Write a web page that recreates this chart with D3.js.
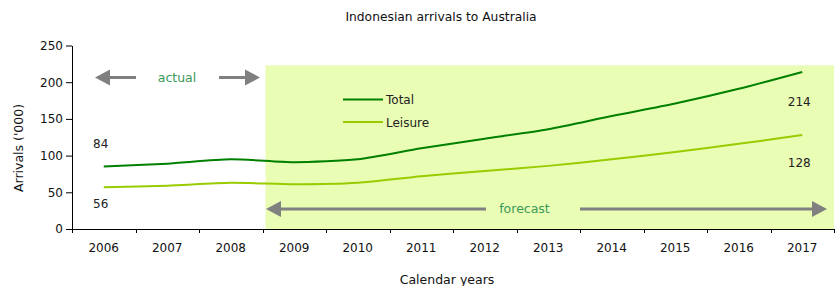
<!DOCTYPE html>
<html><head><meta charset="utf-8">
<script src="https://cdn.jsdelivr.net/npm/d3@7"></script>
<style>body{margin:0;background:#fff}svg{display:block}text{font-family:"DejaVu Sans",Verdana,sans-serif}</style>
</head><body><svg id="c" width="839" height="286"></svg>
<script>
const years = ["2006","2007","2008","2009","2010","2011","2012","2013","2014","2015","2016","2017"];
const total = [85, 89, 95, 91, 95, 110, 123, 136, 154, 171, 191, 214];
const leisure = [57, 59, 63, 61, 63, 72, 79, 86, 95, 105, 116, 128];
const yTicks = [0, 50, 100, 150, 200, 250];
const firstForecast = "2009";
const labels = [
  {year:"2006", text:"84", value:110},
  {year:"2006", text:"56", value:28},
  {year:"2017", text:"214", value:168},
  {year:"2017", text:"128", value:85}
];

const svg = d3.select("#c");
const x = d3.scaleBand().domain(years).range([72, 834]).padding(0);
const y = d3.scaleLinear().domain([0, 250]).range([229, 45.5]);
const cx = d => x(d) + x.bandwidth()/2;

// forecast shading
svg.append("rect")
  .attr("x", x(firstForecast) + 3).attr("y", y(223))
  .attr("width", x.range()[1] - x(firstForecast) - 3)
  .attr("height", y(0) - y(223))
  .attr("fill", "#EAFDB4");

// y axis
const yAxis = d3.axisLeft(y).tickValues(yTicks).tickSize(6).tickPadding(3).tickSizeOuter(0);
const gy = svg.append("g").attr("transform","translate(72,0)").call(yAxis);
gy.selectAll("text").attr("font-size", 12).attr("fill","#111").attr("font-family","DejaVu Sans");
gy.selectAll("line,path").attr("stroke","#000");

// x axis
svg.append("line").attr("x1",72).attr("x2",834).attr("y1",y(0)+0.5).attr("y2",y(0)+0.5).attr("stroke","#000");
const bounds = years.map(d => x(d)).concat([x.range()[1]]);
svg.selectAll(".xt").data(bounds).join("line")
  .attr("x1", d=>Math.round(d)+0.5).attr("x2", d=>Math.round(d)+0.5)
  .attr("y1", y(0)).attr("y2", y(0)+4).attr("stroke","#000");
svg.selectAll(".xl").data(years).join("text")
  .attr("x", d=>cx(d)).attr("y", 252).attr("text-anchor","middle")
  .attr("font-size",12).attr("fill","#111").text(d=>d);

// lines
const line = d3.line().x((d,i)=>cx(years[i])).y(d=>y(d)).curve(d3.curveCardinal.tension(0.3));
svg.append("path").datum(leisure).attr("d", line).attr("fill","none").attr("stroke","#99CC00").attr("stroke-width",2);
svg.append("path").datum(total).attr("d", line).attr("fill","none").attr("stroke","#008000").attr("stroke-width",2);

// data labels
svg.selectAll(".dl").data(labels).join("text")
  .attr("x", d=>cx(d.year) - 3).attr("y", d=>y(d.value))
  .attr("text-anchor","middle").attr("font-size",12).attr("fill","#222").text(d=>d.text);

// legend
const legend = [{name:"Total", color:"#008000", yy:99.5},{name:"Leisure", color:"#99CC00", yy:122}];
legend.forEach(l=>{
  svg.append("line").attr("x1",343).attr("x2",383).attr("y1",l.yy).attr("y2",l.yy).attr("stroke",l.color).attr("stroke-width",2);
  svg.append("text").attr("x",386).attr("y",l.yy+4.5).attr("font-size",12).attr("fill","#222").text(l.name);
});

// arrows
const grey = "#808080";
function arrow(xFrom, xTo, yy){
  const dir = Math.sign(xTo - xFrom), head = 15, hh = 8;
  svg.append("line").attr("x1",xFrom).attr("x2",xTo - dir*head).attr("y1",yy).attr("y2",yy).attr("stroke",grey).attr("stroke-width",3);
  svg.append("path").attr("d", `M${xTo},${yy} L${xTo-dir*head},${yy-hh} L${xTo-dir*head},${yy+hh} Z`).attr("fill",grey);
}
arrow(136, 95, 77.5);
arrow(219, 260, 77.5);
arrow(486, 266, 209);
arrow(580, 827, 209);
svg.append("text").attr("x",177).attr("y",81.5).attr("text-anchor","middle").attr("font-size",12.5).attr("fill","#3A9A5A").text("actual");
svg.append("text").attr("x",524.5).attr("y",213).attr("text-anchor","middle").attr("font-size",12.5).attr("fill","#3A9A5A").text("forecast");

// titles
svg.append("text").attr("x",441).attr("y",21).attr("text-anchor","middle").attr("font-size",12.3).attr("fill","#111").text("Indonesian arrivals to Australia");
svg.append("text").attr("x",447).attr("y",284).attr("text-anchor","middle").attr("font-size",12.5).attr("fill","#111").text("Calendar years");
svg.append("text").attr("transform","translate(23,148) rotate(-90)").attr("text-anchor","middle").attr("font-size",12.5).attr("fill","#111").text("Arrivals ('000)");
</script></body></html>
